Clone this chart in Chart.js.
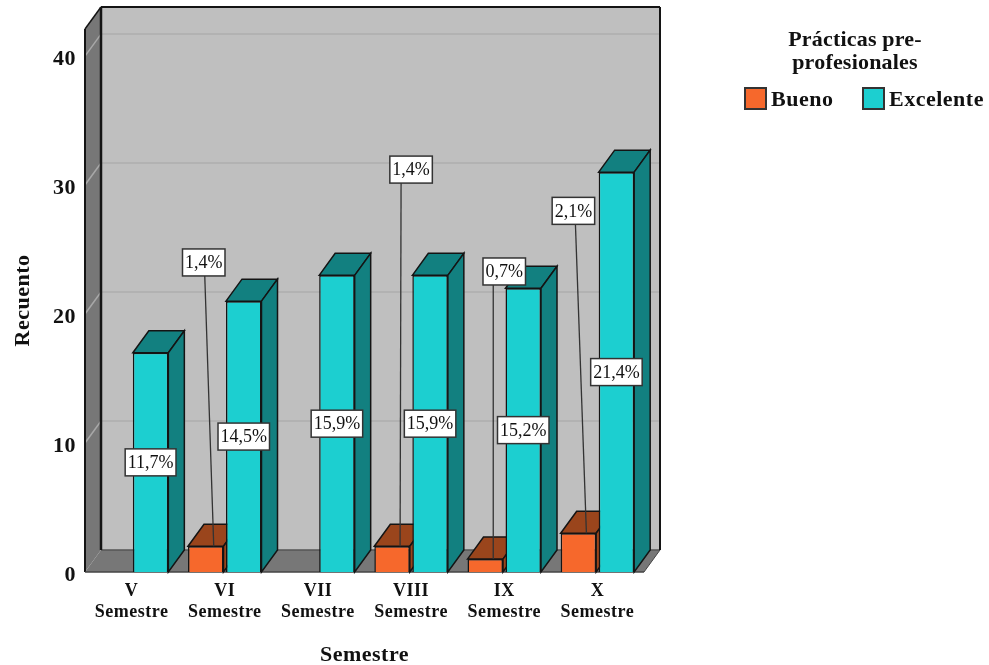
<!DOCTYPE html>
<html>
<head>
<meta charset="utf-8">
<title>Prácticas pre-profesionales por semestre</title>
<script src="https://cdn.jsdelivr.net/npm/chart.js@4"></script>
<style>
  html, body { margin: 0; background: #fff; }
  canvas { display: block; }
</style>
</head>
<body>
<canvas id="barChart" width="989" height="665"></canvas>
<script>
const semestres = [["V", "Semestre"], ["VI", "Semestre"], ["VII", "Semestre"], ["VIII", "Semestre"], ["IX", "Semestre"], ["X", "Semestre"]];
const bueno = [null, 2, null, 2, 1, 3];
const excelente = [17, 21, 23, 23, 22, 31];
const buenoPct = [null, "1,4%", null, "1,4%", "0,7%", "2,1%"];
const excelentePct = ["11,7%", "14,5%", "15,9%", "15,9%", "15,2%", "21,4%"];
const yTicks = [0, 10, 20, 30, 40];
const legendTitle = ["Prácticas pre-", "profesionales"];

// callouts of the small bars: axis level of the box, box shift and leader start from bar centre
const calloutLevel = [null, 24, null, 31.2, 23.3, 28];
const calloutShift = [null, -2, null, 19, 19, -5];
const leaderShift = [null, -1, null, 9, 8, -3];

const DX = 16, DY = 22;
const serif = '"Liberation Serif", "Times New Roman", serif';
const colors = {
  bueno: { front: "#f6682c", dark: "#9a451c" },
  excelente: { front: "#1ccfd0", dark: "#128080" },
  wall: "#bfbfbf", side: "#777777", grid: "#aeaeae", gridSide: "#a8a8a8", line: "#141414"
};

function poly(ctx, pts, fill, stroke, lw) {
  ctx.beginPath();
  pts.forEach((p, i) => i ? ctx.lineTo(p[0], p[1]) : ctx.moveTo(p[0], p[1]));
  ctx.closePath();
  if (fill) { ctx.fillStyle = fill; ctx.fill(); }
  if (stroke) { ctx.strokeStyle = stroke; ctx.lineWidth = lw || 1.5; ctx.stroke(); }
}

function seg(ctx, x1, y1, x2, y2, color, lw) {
  ctx.beginPath();
  ctx.moveTo(x1, y1);
  ctx.lineTo(x2, y2);
  ctx.strokeStyle = color;
  ctx.lineWidth = lw;
  ctx.stroke();
}

function callout(ctx, text, cx, cy) {
  ctx.letterSpacing = "0px";
  ctx.font = "18px " + serif;
  const w = ctx.measureText(text).width + 5, h = 27;
  ctx.fillStyle = "#fff";
  ctx.strokeStyle = "#333";
  ctx.lineWidth = 1.5;
  ctx.fillRect(cx - w / 2, cy - h / 2, w, h);
  ctx.strokeRect(cx - w / 2, cy - h / 2, w, h);
  ctx.fillStyle = "#111";
  ctx.textAlign = "center";
  ctx.textBaseline = "middle";
  ctx.fillText(text, cx, cy + 1);
}

const box3d = {
  id: "box3d",
  beforeDraw(chart) {
    // the bold texts of the reference run a little wider than the font
    chart.ctx.letterSpacing = "0.5px";
  },
  beforeDatasetsDraw(chart) {
    const { ctx, chartArea: a, scales: { y } } = chart;
    ctx.save();
    // back wall, left wall, floor
    poly(ctx, [[a.left + DX, a.top - DY], [a.right + DX, a.top - DY], [a.right + DX, a.bottom - DY], [a.left + DX, a.bottom - DY]], colors.wall);
    poly(ctx, [[a.left, a.top], [a.left + DX, a.top - DY], [a.left + DX, a.bottom - DY], [a.left, a.bottom]], colors.side);
    poly(ctx, [[a.left, a.bottom], [a.left + DX, a.bottom - DY], [a.right + DX, a.bottom - DY], [a.right, a.bottom]], colors.side);
    yTicks.slice(1).forEach(t => {
      const py = y.getPixelForValue(t);
      seg(ctx, a.left + DX, py - DY, a.right + DX, py - DY, colors.grid, 1.5);
      seg(ctx, a.left, py, a.left + DX, py - DY, colors.gridSide, 1.5);
    });
    seg(ctx, a.left + DX, a.bottom - DY, a.right + DX, a.bottom - DY, "#555", 1.5);
    seg(ctx, a.left + DX, a.top - DY, a.right + DX, a.top - DY, colors.line, 2);
    seg(ctx, a.right + DX, a.top - DY, a.right + DX, a.bottom - DY, colors.line, 2);
    seg(ctx, a.left + DX, a.top - DY, a.left + DX, a.bottom - DY, colors.line, 2.5);
    seg(ctx, a.left, a.top, a.left, a.bottom, colors.line, 2);
    seg(ctx, a.left, a.top, a.left + DX, a.top - DY, colors.line, 1.5);
    seg(ctx, a.left, a.bottom, a.right, a.bottom, "#444", 1.5);
    seg(ctx, a.right, a.bottom, a.right + DX, a.bottom - DY, "#444", 1);

    // top and side faces go under the library's front faces
    chart.data.datasets.forEach((ds, di) => {
      chart.getDatasetMeta(di).data.forEach((bar, i) => {
        if (ds.data[i] == null) return;
        const p = bar.getProps(["x", "y", "base", "width"], true);
        const l = p.x - p.width / 2, r = p.x + p.width / 2;
        poly(ctx, [[l, p.y], [l + DX, p.y - DY], [r + DX, p.y - DY], [r, p.y]], ds.darkColor, colors.line);
        poly(ctx, [[r, p.y], [r + DX, p.y - DY], [r + DX, p.base - DY], [r, p.base]], ds.darkColor, colors.line);
      });
    });
    ctx.restore();
  },
  afterDatasetsDraw(chart) {
    const { ctx, scales: { y } } = chart;
    const [mBueno, mExc] = [chart.getDatasetMeta(0), chart.getDatasetMeta(1)];
    ctx.save();
    mBueno.data.forEach((bar, i) => {
      if (bueno[i] == null) return;
      const by = y.getPixelForValue(calloutLevel[i]);
      seg(ctx, bar.x + leaderShift[i], by + 13, bar.x + 8, bar.y, "#333", 1.3);
    });
    mBueno.data.forEach((bar, i) => {
      if (bueno[i] == null) return;
      callout(ctx, buenoPct[i], bar.x + calloutShift[i], y.getPixelForValue(calloutLevel[i]));
    });
    mExc.data.forEach((bar, i) => {
      callout(ctx, excelentePct[i], bar.x, y.getPixelForValue(excelente[i] / 2));
    });

    // legend on the right side
    ctx.fillStyle = "#111";
    ctx.textAlign = "center";
    ctx.textBaseline = "middle";
    ctx.font = "bold 22px " + serif;
    ctx.letterSpacing = "0.2px";
    legendTitle.forEach((line, i) => ctx.fillText(line, 855, 40 + i * 23));
    ctx.textAlign = "left";
    ctx.letterSpacing = "0.5px";
    chart.data.datasets.forEach((ds, di) => {
      const sx = [745, 863][di];
      ctx.fillStyle = ds.backgroundColor;
      ctx.strokeStyle = "#333";
      ctx.lineWidth = 2;
      ctx.fillRect(sx, 88, 21, 21);
      ctx.strokeRect(sx, 88, 21, 21);
      ctx.fillStyle = "#111";
      ctx.fillText(ds.label, sx + 26, 100);
    });
    ctx.restore();
  }
};

new Chart(document.getElementById("barChart").getContext("2d"), {
  type: "bar",
  data: {
    labels: semestres,
    datasets: [
      { label: "Bueno", data: bueno, backgroundColor: colors.bueno.front, darkColor: colors.bueno.dark, borderColor: colors.line, borderWidth: 1.5 },
      { label: "Excelente", data: excelente, backgroundColor: colors.excelente.front, darkColor: colors.excelente.dark, borderColor: colors.line, borderWidth: 1.5 }
    ]
  },
  options: {
    responsive: false,
    animation: false,
    categoryPercentage: 0.816,
    barPercentage: 0.934,
    layout: { padding: { top: 29, right: 345, left: 0, bottom: 0 } },
    plugins: { legend: { display: false }, tooltip: { enabled: false } },
    scales: {
      x: {
        grid: { display: false },
        border: { display: false },
        ticks: { autoSkip: false, maxRotation: 0, padding: 1, color: "#111", font: { family: serif, size: 18, weight: "bold", lineHeight: 1.16 } },
        title: { display: true, text: "Semestre", color: "#111", font: { family: serif, size: 22, weight: "bold" }, padding: { top: 0, bottom: -4 } },
        afterFit(s) { s.height = 93; }
      },
      y: {
        min: 0,
        max: 42.1,
        grid: { display: false, drawTicks: false },
        border: { display: false },
        ticks: { stepSize: 10, includeBounds: false, padding: 9, labelOffset: 3, color: "#111", font: { family: serif, size: 22, weight: "bold" } },
        title: { display: true, text: "Recuento", color: "#111", font: { family: serif, size: 22, weight: "bold" }, padding: { top: 10, bottom: 0 } },
        afterFit(s) { s.width = 85; }
      }
    }
  },
  plugins: [box3d]
});
</script>
</body>
</html>
